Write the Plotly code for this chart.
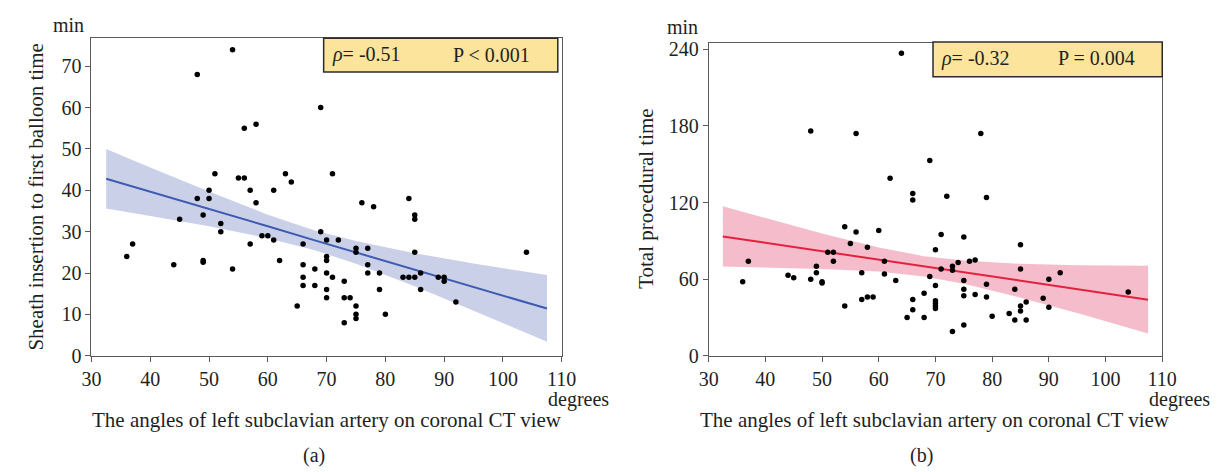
import plotly.graph_objects as go

# ---------------- data ----------------
# Panel (a): sheath insertion to first balloon time (min) vs LSA angle (degrees)
a_x = [36, 37, 44, 45, 48, 48, 49, 49, 49, 50, 50, 51, 52, 52, 54, 54, 55, 56, 56, 57,
       57, 58, 58, 59, 60, 61, 61, 62, 63, 64, 65, 66, 66, 66, 66, 68, 68, 69, 69, 70,
       70, 70, 70, 70, 70, 71, 71, 72, 73, 73, 73, 74, 75, 75, 75, 75, 75, 76, 77, 77,
       77, 78, 79, 79, 80, 83, 84, 84, 85, 85, 85, 85, 86, 86, 89, 90, 90, 92, 104]
a_y = [24, 27, 22, 33, 38, 68, 34, 23, 22.6, 40, 38, 44, 32, 30, 21, 74, 43, 43, 55, 40,
       27, 56, 37, 29, 29, 40, 28, 23, 44, 42, 12, 27, 22, 19, 17, 21, 17, 60, 30, 28,
       24, 23, 20, 16, 14, 44, 19, 28, 18, 14, 8, 14, 26, 25, 12, 10, 9, 37, 26, 22,
       20, 36, 20, 16, 10, 19, 38, 19, 34, 33, 25, 19, 20, 16, 19, 19, 18, 13, 25]

# Panel (b): total procedural time (min) vs LSA angle (degrees)
b_x = [36, 37, 44, 45, 48, 48, 49, 49, 50, 50, 51, 52, 52, 54, 54, 55, 56, 56, 57, 57,
       58, 58, 59, 60, 61, 61, 62, 63, 64, 65, 66, 66, 66, 66, 68, 68, 69, 69, 70, 70,
       70, 70, 70, 70, 71, 71, 72, 73, 73, 73, 74, 75, 75, 75, 75, 75, 76, 77, 77, 78,
       79, 79, 79, 80, 83, 84, 84, 85, 85, 85, 85, 86, 86, 89, 90, 90, 92, 104]
b_y = [58, 74, 63, 61, 176, 60, 70, 65, 58, 57, 81, 81, 74, 101, 39, 88, 174, 97, 65, 44,
       85, 46, 46, 98, 74, 64, 139, 59, 237, 30, 127, 122, 44, 36, 49, 30, 153, 62, 83, 55,
       43, 41, 39, 37, 95, 68, 125, 70, 67, 19, 73, 93, 59, 52, 47, 24, 74, 75, 48, 174,
       124, 56, 46, 31, 33, 52, 28, 87, 68, 39, 35, 42, 28, 45, 60, 38, 65, 50]

# Regression lines and 95% confidence bands
band_x = [32.5, 40, 50, 60, 68, 75, 85, 95, 107.5]
a_fit = [42.8, 39.7, 35.5, 31.3, 27.9, 25.0, 20.8, 16.6, 11.4]
a_up = [50.0, 45.5, 39.7, 34.1, 30.3, 27.75, 24.8, 22.3, 19.5]
a_lo = [35.6, 33.8, 31.3, 28.4, 25.5, 22.25, 16.8, 10.9, 3.4]
b_fit = [93.4, 88.5, 81.9, 75.3, 70.0, 65.4, 58.8, 52.2, 43.9]
b_up = [117.0, 107.7, 95.7, 84.7, 78.0, 74.5, 72.0, 70.9, 70.5]
b_lo = [69.8, 69.2, 68.0, 65.9, 62.0, 56.3, 45.5, 33.5, 17.5]

x_ticks = [30, 40, 50, 60, 70, 80, 90, 100, 110]
a_yticks = [0, 10, 20, 30, 40, 50, 60, 70]
b_yticks = [0, 60, 120, 180, 240]

stats_a = ["<i>ρ</i>= -0.51", "P < 0.001"]
stats_b = ["<i>ρ</i>= -0.32", "P = 0.004"]

# ---------------- figure ----------------
W, H = 1229, 472
FONT = "Liberation Serif"
TXT = "#231f20"
AX = "#5a5a5a"
FS = 20


def px(x):
    return x / W


def py(y):
    return 1 - y / H


fig = go.Figure()

panels = [
    dict(xs=a_x, ys=a_y, fit=a_fit, up=a_up, lo=a_lo, xa="x", ya="y",
         band="rgba(200,206,232,0.95)", line="#3d5bb0"),
    dict(xs=b_x, ys=b_y, fit=b_fit, up=b_up, lo=b_lo, xa="x2", ya="y2",
         band="rgba(244,184,200,0.95)", line="#e2213e"),
]

for p in panels:
    fig.add_trace(go.Scatter(
        x=band_x + band_x[::-1], y=p["up"] + p["lo"][::-1],
        fill="toself", fillcolor=p["band"], line=dict(width=0),
        mode="lines", hoverinfo="skip", xaxis=p["xa"], yaxis=p["ya"]))
    fig.add_trace(go.Scatter(
        x=band_x, y=p["fit"], mode="lines",
        line=dict(color=p["line"], width=2), xaxis=p["xa"], yaxis=p["ya"]))
    fig.add_trace(go.Scatter(
        x=p["xs"], y=p["ys"], mode="markers",
        marker=dict(color="black", size=5.5), xaxis=p["xa"], yaxis=p["ya"]))

axis_common = dict(showline=True, linecolor=AX, linewidth=1, mirror=True,
                   ticks="outside", ticklen=5, tickcolor=AX, tickwidth=1,
                   showgrid=False, zeroline=False,
                   tickfont=dict(family=FONT, size=FS, color=TXT))

fig.update_layout(
    width=W, height=H, margin=dict(l=0, r=0, t=0, b=0),
    paper_bgcolor="white", plot_bgcolor="white", showlegend=False,
    xaxis=dict(domain=[px(75), px(555)], range=[30, 110], tickvals=x_ticks,
               anchor="y", **axis_common),
    yaxis=dict(domain=[py(355), py(27)], range=[0, 76.8], tickvals=a_yticks,
               anchor="x", **axis_common),
    xaxis2=dict(domain=[px(705), px(1168)], range=[30, 110], tickvals=x_ticks,
                anchor="y2", **axis_common),
    yaxis2=dict(domain=[py(355), py(32)], range=[0, 245], tickvals=b_yticks,
                anchor="x2", **axis_common),
)

# stats boxes
boxes = [((312, 27, 551, 62), stats_a, (318, 442), 44),
         ((934, 31, 1168, 67), stats_b, (940, 1060), 48)]
for (x0, y0, x1, y1), texts, (tx1, tx2), ty in boxes:
    fig.add_shape(type="rect", xref="paper", yref="paper",
                  x0=px(x0), x1=px(x1), y0=py(y1), y1=py(y0),
                  fillcolor="#fce49c", line=dict(color="#2b2b2b", width=1.5))
    for t, tx in zip(texts, (tx1, tx2)):
        fig.add_annotation(text=t, x=px(tx), y=py(ty), xref="paper", yref="paper",
                           xanchor="left", yanchor="middle", showarrow=False,
                           font=dict(family=FONT, size=FS, color=TXT))


def label(text, x, y, xanchor="center", angle=0, size=FS):
    fig.add_annotation(text=text, x=px(x), y=py(y), xref="paper", yref="paper",
                       xanchor=xanchor, yanchor="middle", showarrow=False,
                       textangle=angle, font=dict(family=FONT, size=size, color=TXT))


label("min", 52, 13)
label("min", 678, 16)
label("degrees", 539, 400, xanchor="left")
label("degrees", 1152, 400, xanchor="left")
label("The angles of left subclavian artery on coronal CT view", 315, 421, size=21)
label("The angles of left subclavian artery on coronal CT view", 936, 421, size=21)
label("Sheath insertion to first balloon time", 18, 191, angle=-90, size=21)
label("Total procedural time", 641, 193, angle=-90, size=21)
label("(a)", 302, 458)
label("(b)", 922, 458)

fig.write_html("out.html")
